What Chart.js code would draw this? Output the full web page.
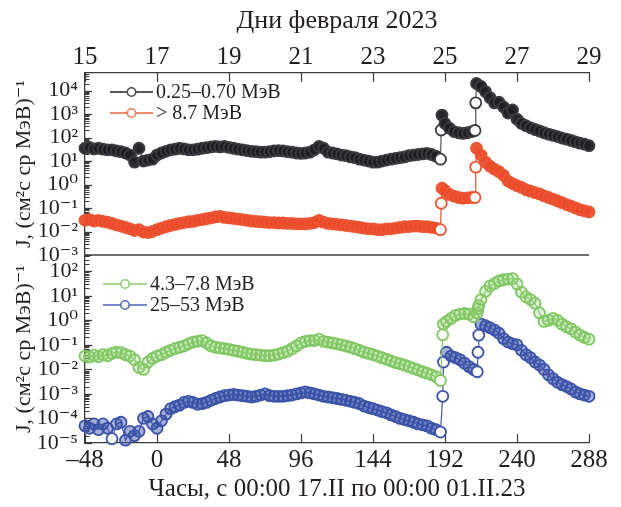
<!DOCTYPE html>
<html>
<head>
<meta charset="utf-8">
<script src="https://cdn.jsdelivr.net/npm/chart.js@4.4.1/dist/chart.umd.min.js"></script>
<style>
  html, body { margin: 0; padding: 0; background: #ffffff; }
  #wrap { width: 621px; height: 507px; }
</style>
</head>
<body>
<div id="wrap"><canvas id="c" width="621" height="507"></canvas></div>
<script>
// ---------- DATA ----------
const hourTicks = [-48, 0, 48, 96, 144, 192, 240, 288];
const dayTicks = [15, 17, 19, 21, 23, 25, 27, 29];
const topDecades = [1e-3, 1e-2, 1e-1, 1e0, 1e1, 1e2, 1e3, 1e4];
const botDecades = [1e-5, 1e-4, 1e-3, 1e-2, 1e-1, 1e0, 1e1, 1e2];

const labelLow = '0.25–0.70 МэВ';
const labelHigh = '> 8.7 МэВ';
const labelMid = '4.3–7.8 МэВ';
const labelHard = '25–53 МэВ';

const hoursTop = [
  -48,-45,-42,-39,-36,-33,-30,-27,-24,-21,
  -18,-15,-12,-9,-6,-3,0,3,6,9,
  12,15,18,21,24,27,30,33,36,39,
  42,45,48,51,54,57,60,63,66,69,
  72,75,78,81,84,87,90,93,96,99,
  102,105,108,111,114,117,120,123,126,129,
  132,135,138,141,144,147,150,153,156,159,
  162,165,168,171,174,177,180,183,186,189,
  189.5,190,192,195,198,201,204,207,210,212,212.5,213,
  216,219,222,225,228,231,234,237,240,243,246,249,252,255,258,261,264,267,270,273,276,279,282,285,288
];
const fluxLow = [
  35,38,33,35,32,30,30,27,25,22,
  18,9,35,10,11,12,18,22,26,30,
  32,35,33,30,30,32,35,37,40,42,
  40,42,38,35,32,30,28,26,25,24,
  24,25,27,28,27,25,24,22,21,22,
  24,30,42,35,24,22,20,18,17,15,
  14,12,11,10,9,9,10,11,12,13,
  14,15,17,18,19,20,21,19,16,12,
  210,900,400,250,180,160,150,160,180,200,3000,20000,
  15000,9000,5000,3000,3200,2000,1100,1500,600,400,320,260,220,190,160,140,125,110,95,85,75,65,58,52,45
];
const fluxHigh = [
  0.030,0.032,0.028,0.030,0.027,0.025,0.022,0.019,0.017,0.015,
  0.013,0.011,0.012,0.0095,0.009,0.010,0.012,0.014,0.016,0.018,
  0.020,0.022,0.024,0.026,0.027,0.030,0.032,0.035,0.038,0.042,
  0.044,0.040,0.038,0.036,0.034,0.032,0.030,0.028,0.027,0.026,
  0.025,0.024,0.024,0.023,0.023,0.022,0.022,0.021,0.021,0.021,
  0.022,0.024,0.030,0.025,0.022,0.021,0.020,0.019,0.018,0.017,
  0.016,0.015,0.014,0.013,0.013,0.012,0.012,0.013,0.013,0.014,
  0.015,0.016,0.016,0.017,0.017,0.016,0.016,0.015,0.014,0.012,
  0.16,0.7,0.55,0.38,0.32,0.28,0.26,0.27,0.28,0.28,5.5,35,
  18,9,6,4.5,3.5,2.5,1.4,1.1,0.9,0.75,0.6,0.52,0.45,0.40,0.33,0.28,0.24,0.2,0.17,0.14,0.12,0.1,0.085,0.075,0.068
];

const hoursBot = [
  -48,-45,-42,-39,-36,-33,-30,-27,-24,-21,
  -18,-15,-12,-9,-6,-3,0,3,6,9,
  12,15,18,21,24,27,30,33,36,39,
  42,45,48,51,54,57,60,63,66,69,
  72,75,78,81,84,87,90,93,96,99,
  102,105,108,111,114,117,120,123,126,129,
  132,135,138,141,144,147,150,153,156,159,
  162,165,168,171,174,177,180,183,186,189,
  190.5,191,193,196,199,202,205,208,211,213.5,214,214.5,
  216,219,222,225,228,231,234,237,240,243,246,249,252,255,258,261,264,267,270,273,276,279,282,285,288
];
const fluxMid = [
  0.035,0.032,0.038,0.033,0.040,0.036,0.045,0.050,0.048,0.040,
  0.035,0.025,0.012,0.010,0.020,0.028,0.035,0.040,0.050,0.060,
  0.070,0.080,0.090,0.110,0.130,0.140,0.150,0.120,0.090,0.080,
  0.075,0.070,0.065,0.060,0.055,0.050,0.045,0.042,0.040,0.038,
  0.036,0.036,0.038,0.042,0.048,0.055,0.070,0.090,0.120,0.140,
  0.150,0.150,0.170,0.140,0.130,0.120,0.110,0.100,0.090,0.080,
  0.070,0.060,0.050,0.045,0.040,0.035,0.030,0.026,0.022,0.019,
  0.017,0.015,0.013,0.011,0.0095,0.008,0.007,0.006,0.005,0.0035,
  0.26,0.7,0.9,1.2,1.6,1.8,1.9,1.8,1.4,2.0,3,4,
  7,15,25,32,40,45,48,50,30,14,9,7,5,2,0.9,1.0,1.2,1.0,0.7,0.55,0.45,0.33,0.25,0.2,0.17
];
const fluxHard = [
  5e-5,4e-5,6e-5,3.5e-5,6e-5,4e-5,1.5e-5,6e-5,7e-5,1.3e-5,
  3e-5,2e-5,3e-5,1e-4,1.2e-4,6e-5,4e-5,8e-5,1.5e-4,2.5e-4,
  3e-4,3.5e-4,4.5e-4,5e-4,4.5e-4,3.8e-4,4e-4,4.5e-4,5.5e-4,6.5e-4,
  7.5e-4,8.5e-4,9e-4,9.5e-4,9e-4,8.5e-4,8e-4,7.5e-4,8e-4,9e-4,
  1e-3,8.5e-4,8e-4,8e-4,8e-4,8.5e-4,9e-4,1e-3,1.1e-3,1.2e-3,
  1.1e-3,1e-3,9e-4,8e-4,7.5e-4,7e-4,6.5e-4,6e-4,5.5e-4,5e-4,
  4.5e-4,4e-4,3.2e-4,2.8e-4,2.5e-4,2.2e-4,1.9e-4,1.7e-4,1.4e-4,1.2e-4,
  1e-4,9e-5,8e-5,7e-5,6e-5,5.5e-5,5e-5,4e-5,3.5e-5,2.8e-5,
  8e-4,0.02,0.05,0.035,0.03,0.025,0.018,0.013,0.01,0.008,0.05,0.25,
  0.7,0.6,0.5,0.4,0.3,0.18,0.13,0.11,0.1,0.06,0.04,0.03,0.02,0.015,0.01,0.006,0.0042,0.003,0.0024,0.002,0.0016,0.0012,0.001,0.0009,0.0008
];

// ---------- STYLE ----------
const FONT = '"Liberation Serif", "DejaVu Serif", "Times New Roman", serif';
const TXT = '#231f20';
const AXIS = '#3c3c3c';

const SUP = {'-':'⁻','0':'⁰','1':'¹','2':'²','3':'³','4':'⁴','5':'⁵','6':'⁶','7':'⁷','8':'⁸','9':'⁹'};
function decadeLabel(v) {
  const e = Math.round(Math.log10(v));
  if (Math.abs(Math.log10(v) - e) > 1e-6) return '';
  return '10' + String(e).split('').map(ch => SUP[ch]).join('');
}
function pairs(xs, ys) { return xs.map((x, i) => ({x: x, y: ys[i]})); }

function jumpFill(base) {
  return function(ctx) {
    const d = ctx.dataset.data, i = ctx.dataIndex;
    if (!d || !d[i]) return base;
    const v = d[i].y;
    const p = i > 0 ? d[i-1].y : v;
    const n = i < d.length - 1 ? d[i+1].y : v;
    const r1 = Math.log10(v / p), r2 = Math.log10(n / v);
    return (r2 > 0.6 || (r1 > 0.6 && r2 > 0.3)) ? '#ffffff' : base;
  };
}

const series = [
  {label: labelLow, xs: hoursTop, ys: fluxLow, axis: 'yTop', line: '#555559', edge: '#3b3b40', fill: 'rgba(30,30,34,0.95)', legLine: '#5a5a5a', legEdge: '#4a4a4a'},
  {label: labelHigh, xs: hoursTop, ys: fluxHigh, axis: 'yTop', line: '#e9502f', edge: '#ec5533', fill: 'rgba(236,74,40,0.92)', legLine: '#ef8a6c', legEdge: '#ee7a5a'},
  {label: labelMid, xs: hoursBot, ys: fluxMid, axis: 'yBot', line: '#86c96a', edge: '#80c763', fill: 'rgba(150,210,120,0.3)', legLine: '#a6d88f', legEdge: '#8ccd70'},
  {label: labelHard, xs: hoursBot, ys: fluxHard, axis: 'yBot', line: '#3f56aa', edge: '#3a52a8', fill: 'rgba(60,82,168,0.45)', legLine: '#7788c6', legEdge: '#5569b8'}
];

const datasets = series.map(s => ({
  label: s.label,
  data: pairs(s.xs, s.ys),
  yAxisID: s.axis,
  xAxisID: 'x',
  showLine: true,
  borderColor: s.line,
  borderWidth: 1.2,
  pointRadius: 5.5,
  pointBorderWidth: 1.8,
  pointBorderColor: s.edge,
  pointBackgroundColor: jumpFill(s.fill),
  clip: false,
  legLine: s.legLine,
  legEdge: s.legEdge
}));

// ---------- PLUGIN: inner ticks, separator, legends ----------
const framePlugin = {
  id: 'framePlugin',
  beforeDatasetsDraw(chart) {
    const {ctx, chartArea: a, scales} = chart;
    ctx.save();
    ctx.strokeStyle = AXIS;
    ctx.lineWidth = 1.3;
    const sep = scales.yBot.top;
    ctx.beginPath(); ctx.moveTo(a.left, sep); ctx.lineTo(a.right, sep); ctx.stroke();
    ctx.lineWidth = 1.2;
    scales.x.ticks.forEach(t => {
      const px = Math.round(scales.x.getPixelForValue(t.value)) + 0.5;
      ctx.beginPath(); ctx.moveTo(px, a.bottom); ctx.lineTo(px, a.bottom - 9); ctx.stroke();
    });
    scales.x2.ticks.forEach(t => {
      const px = Math.round(scales.x2.getPixelForValue(t.value)) + 0.5;
      ctx.beginPath(); ctx.moveTo(px, a.top); ctx.lineTo(px, a.top + 9); ctx.stroke();
    });
    ['yTop', 'yBot'].forEach(id => {
      const sc = scales[id];
      const lo = Math.floor(Math.log10(sc.min)), hi = Math.ceil(Math.log10(sc.max));
      for (let e = lo; e <= hi; e++) {
        for (let k = 1; k <= 9; k++) {
          const v = k * Math.pow(10, e);
          if (v < sc.min * 0.999 || v > sc.max * 1.001) continue;
          const py = Math.round(sc.getPixelForValue(v)) + 0.5;
          const len = k === 1 ? 7 : 4.5;
          ctx.lineWidth = k === 1 ? 1.3 : 1;
          ctx.beginPath(); ctx.moveTo(a.left, py); ctx.lineTo(a.left + len, py); ctx.stroke();
        }
      }
    });
    ctx.restore();
  },
  afterDraw(chart) {
    const {ctx} = chart;
    const ds = chart.data.datasets;
    const rows = [
      {d: ds[0], x0: 110, x1: 153, y: 92},
      {d: ds[1], x0: 110, x1: 153, y: 113},
      {d: ds[2], x0: 103, x1: 147, y: 284},
      {d: ds[3], x0: 103, x1: 147, y: 305}
    ];
    ctx.save();
    rows.forEach(r => {
      ctx.strokeStyle = r.d.legLine;
      ctx.lineWidth = 1.8;
      ctx.beginPath(); ctx.moveTo(r.x0, r.y); ctx.lineTo(r.x1, r.y); ctx.stroke();
      const cx = (r.x0 + r.x1) / 2;
      ctx.beginPath(); ctx.arc(cx, r.y, 4.2, 0, Math.PI * 2);
      ctx.fillStyle = '#ffffff'; ctx.fill();
      ctx.strokeStyle = r.d.legEdge; ctx.lineWidth = 1.6; ctx.stroke();
      ctx.fillStyle = TXT;
      ctx.font = '20px ' + FONT;
      ctx.textAlign = 'left';
      ctx.textBaseline = 'middle';
      ctx.fillText(r.d.label, r.x1 + 3, r.y + 1);
    });
    ctx.restore();
  }
};

const yTitle = 'J, (см²с ср МэВ)⁻¹';

new Chart(document.getElementById('c'), {
  type: 'scatter',
  data: {datasets: datasets},
  plugins: [framePlugin],
  options: {
    responsive: false,
    animation: false,
    devicePixelRatio: 1,
    layout: {padding: {left: 0, right: 32, top: 0, bottom: 0}},
    plugins: {legend: {display: false}, tooltip: {enabled: false}},
    scales: {
      x: {
        type: 'linear', position: 'bottom', min: -48, max: 288,
        afterBuildTicks: sc => { sc.ticks = hourTicks.map(v => ({value: v})); },
        afterFit: sc => { sc.height = 64; },
        grid: {display: true, drawOnChartArea: false, drawTicks: false},
        border: {display: true, color: AXIS, width: 1.3},
        ticks: {padding: 2, color: TXT, font: {family: FONT, size: 25}, maxRotation: 0, autoSkip: false,
          callback: v => String(v).replace('-', '–')},
        title: {display: true, text: 'Часы, с 00:00 17.II по 00:00 01.II.23', color: TXT,
          font: {family: FONT, size: 25}, padding: {top: 0, bottom: 3}}
      },
      x2: {
        type: 'linear', axis: 'x', position: 'top', min: 15, max: 29,
        afterBuildTicks: sc => { sc.ticks = dayTicks.map(v => ({value: v})); },
        afterFit: sc => { sc.height = 73; },
        grid: {display: true, drawOnChartArea: false, drawTicks: false},
        border: {display: true, color: AXIS, width: 1.3},
        ticks: {padding: 1, color: TXT, font: {family: FONT, size: 25}, maxRotation: 0, autoSkip: false},
        title: {display: true, text: 'Дни февраля 2023', color: TXT,
          font: {family: FONT, size: 26}, padding: {top: 6, bottom: 0}}
      },
      yBot: {
        type: 'logarithmic', position: 'left', stack: 'j', stackWeight: 188,
        min: 1e-5, max: 460, bounds: 'data',
        afterBuildTicks: sc => { sc.ticks = botDecades.map(v => ({value: v, major: true})); },
        afterFit: sc => { sc.width = 85; },
        grid: {display: true, drawOnChartArea: false, drawTicks: false},
        border: {display: true, color: AXIS, width: 1.3},
        ticks: {padding: 7, color: TXT, font: {family: FONT, size: 22}, autoSkip: false,
          callback: v => decadeLabel(v)},
        title: {display: true, text: yTitle, color: TXT, font: {family: FONT, size: 22}, padding: {top: 11, bottom: 0}}
      },
      yTop: {
        type: 'logarithmic', position: 'left', stack: 'j', stackWeight: 182,
        min: 1e-3, max: 5.6e4, bounds: 'data',
        afterBuildTicks: sc => { sc.ticks = topDecades.map(v => ({value: v, major: true})); },
        afterFit: sc => { sc.width = 85; },
        grid: {display: true, drawOnChartArea: false, drawTicks: false},
        border: {display: true, color: AXIS, width: 1.3},
        ticks: {padding: 7, color: TXT, font: {family: FONT, size: 22}, autoSkip: false,
          callback: v => decadeLabel(v)},
        title: {display: true, text: yTitle, color: TXT, font: {family: FONT, size: 22}, padding: {top: 11, bottom: 0}}
      }
    }
  }
});
</script>
</body>
</html>
